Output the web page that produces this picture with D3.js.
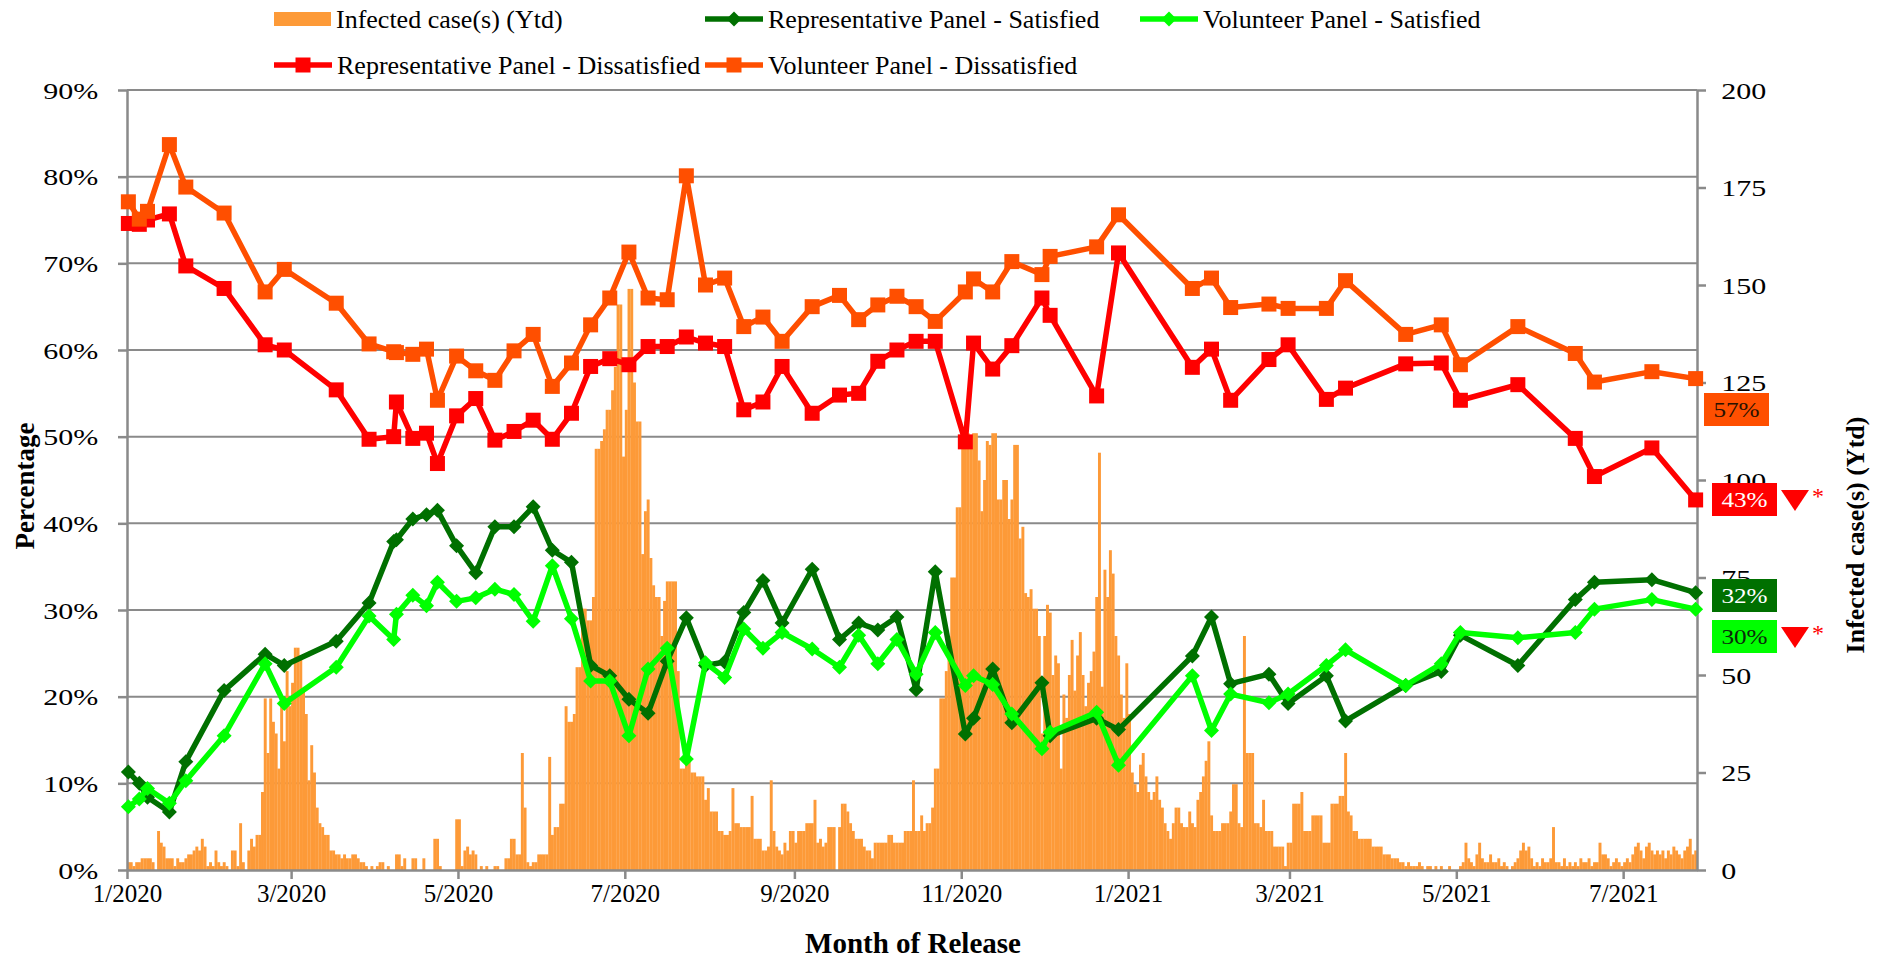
<!DOCTYPE html>
<html lang="en">
<head>
<meta charset="UTF-8">
<title>Satisfaction and infected cases</title>
<script src="https://d3js.org/d3.v7.min.js"></script>
<style>
  body { margin: 0; background: #fff; }
  svg { display: block; font-family: "Liberation Serif", "Times New Roman", serif; }
  .axis path, .axis line { stroke: #8a8a8a; stroke-width: 2.5; }
  .grid line { stroke: #8a8a8a; stroke-width: 2; }
</style>
</head>
<body>
<script>
// survey release dates (shared by the four panel series)
const surveyDates = [
  "2020-01-01","2020-01-05","2020-01-08","2020-01-16","2020-01-22","2020-02-05","2020-02-20","2020-02-27",
  "2020-03-17","2020-03-29","2020-04-07","2020-04-08","2020-04-14","2020-04-19","2020-04-23","2020-04-30",
  "2020-05-07","2020-05-14","2020-05-21","2020-05-28","2020-06-04","2020-06-11","2020-06-18","2020-06-25",
  "2020-07-02","2020-07-09","2020-07-16","2020-07-23","2020-07-30","2020-08-06","2020-08-13","2020-08-20",
  "2020-08-27","2020-09-07","2020-09-17","2020-09-24","2020-10-01","2020-10-08","2020-10-15","2020-10-22",
  "2020-11-02","2020-11-05","2020-11-12","2020-11-19","2020-11-30","2020-12-03","2020-12-20","2020-12-28",
  "2021-01-24","2021-01-31","2021-02-07","2021-02-21","2021-02-28","2021-03-14","2021-03-21","2021-04-12",
  "2021-04-25","2021-05-02","2021-05-23","2021-06-13","2021-06-20","2021-07-11","2021-07-27"
];

// percentages
const repSatisfied = [
  11.3,10.0,8.4,6.7,12.5,20.7,24.9,23.6,26.4,30.8,37.9,38.1,40.5,41.0,41.5,37.4,
  34.3,39.6,39.6,41.9,36.9,35.5,23.6,22.4,19.7,18.1,24.1,29.1,23.6,24.0,29.7,33.4,
  28.5,34.7,26.6,28.5,27.7,29.2,20.8,34.4,15.7,17.5,23.2,17.0,21.6,15.5,17.5,16.2,
  24.7,29.2,21.5,22.6,19.2,22.4,17.2,21.3,22.9,27.1,23.6,31.2,33.2,33.5,32.0
];
const volSatisfied = [
  7.3,8.2,9.4,7.7,10.3,15.5,23.8,19.2,23.4,29.3,26.6,29.5,31.7,30.5,33.2,31.0,
  31.4,32.4,31.8,28.7,35.1,29.0,21.8,21.8,15.5,23.2,25.6,12.8,23.9,22.2,27.8,25.6,
  27.4,25.5,23.4,27.1,23.8,26.6,22.6,27.4,21.3,22.4,21.4,18.0,14.0,15.9,18.2,12.1,
  22.4,16.1,20.3,19.3,20.3,23.6,25.4,21.3,23.8,27.4,26.8,27.4,30.1,31.2,30.1
];
const repDissatisfied = [
  74.6,74.5,75.0,75.7,69.7,67.1,60.6,60.0,55.4,49.7,50.0,54.0,49.8,50.4,46.9,52.4,
  54.4,49.6,50.6,51.9,49.7,52.7,58.1,59.0,58.3,60.4,60.4,61.5,60.8,60.4,53.1,54.0,
  58.1,52.7,54.8,55.0,58.7,60.0,61.0,61.0,49.4,60.8,57.8,60.5,66.0,64.0,54.7,71.2,
  58.0,60.1,54.2,58.9,60.6,54.3,55.6,58.4,58.5,54.2,56.0,49.8,45.4,48.7,42.7
];
const volDissatisfied = [
  77.1,75.1,76.0,83.7,78.8,75.8,66.7,69.3,65.4,60.7,59.8,59.7,59.5,60.1,54.2,59.3,
  57.6,56.5,59.9,61.8,55.8,58.5,62.9,66.0,71.3,66.0,65.8,80.1,67.5,68.3,62.7,63.8,
  61.0,65.0,66.3,63.5,65.2,66.2,65.0,63.3,66.7,68.2,66.7,70.2,68.7,70.8,71.9,75.6,
  67.1,68.3,64.9,65.3,64.8,64.8,68.0,61.8,62.9,58.3,62.7,59.6,56.3,57.5,56.7
];

// daily infected cases, one value per day from casesStart
const casesStart = "2020-01-01";
const dailyCases = [
  2,2,1,2,2,3,3,3,3,2, 0,10,7,6,3,3,3,1,3,2, 2,3,4,4,5,6,5,8,6,1, 2,1,5,2,1,2,1,0,5,5,
  1,12,2,0,5,8,6,9,9,20, 44,30,44,38,35,26,43,33,51,42, 48,57,57,55,46,40,23,32,25,16,
  12,11,9,9,5,5,4,4,3,4, 3,3,4,4,3,2,2,1,0,1, 0,1,2,2,0,1,0,0,4,4, 1,3,0,0,3,3,0,0,3,0,
  0,0,8,8,1,0,0,0,0,0, 13,13,1,5,6,4,5,4,0,1, 0,1,0,0,1,1,0,0,3,3, 8,8,4,4,30,16,2,1,2,2,
  4,4,4,4,29,9,11,11,17,17, 42,38,38,40,52,52,67,67,64,64, 70,108,108,110,113,118,118,123,129,145,
  145,106,118,149,149,125,115,115,81,92, 95,80,73,70,70,60,69,74,74,74, 74,51,26,26,30,28,25,25,24,24,
  24,18,21,15,15,15,10,10,9,9, 10,21,12,12,11,11,11,11,19,8, 8,8,5,5,6,23,10,6,5,4,
  7,5,10,10,7,10,10,10,12,12, 12,18,7,8,6,7,11,11,11,0, 11,17,17,15,12,10,8,8,8,6,
  5,5,3,7,7,7,7,7,9,9, 7,7,7,7,10,10,10,23,10,10, 14,10,12,12,16,26,26,44,44,51,
  60,75,75,93,93,108,115,112,108,112, 112,105,92,100,110,109,112,112,95,95, 100,100,90,95,109,109,85,88,71,70,
  72,67,67,60,35,60,68,66,50,55, 53,26,45,39,50,59,46,55,61,50, 42,48,51,56,70,107,47,77,70,82,
  76,60,55,45,39,53,40,25,22,20, 27,30,24,20,18,20,24,18,16,12, 10,8,12,16,16,12,11,11,15,12,
  11,18,20,24,28,33,14,10,10,10, 12,12,12,15,22,22,12,11,60,30, 30,30,12,12,11,18,10,10,10,6,
  6,6,6,1,7,7,17,17,17,20, 10,10,10,14,14,14,14,7,7,7, 17,17,17,19,19,30,15,14,10,10,
  8,8,8,8,8,6,6,6,6,4, 4,4,3,3,3,2,2,1,2,1, 1,1,2,1,0,1,1,0,1,0, 1,0,0,1,0,0,0,1,2,7,
  3,2,1,4,7,3,2,2,4,2, 2,3,1,2,1,0,1,2,3,5, 7,5,6,3,1,2,1,3,2,2, 3,11,2,2,1,3,1,2,1,2,
  1,3,2,2,3,1,2,2,7,4, 4,3,1,2,3,2,1,2,3,2, 4,6,7,5,3,6,7,5,4,5, 4,5,3,5,4,6,5,4,3,5,
  6,8,4,5
];

// axis ticks
const monthTicks = ["2020-01-01","2020-03-01","2020-05-01","2020-07-01","2020-09-01","2020-11-01",
                    "2021-01-01","2021-03-01","2021-05-01","2021-07-01"];
const pctTicks = [0,0.1,0.2,0.3,0.4,0.5,0.6,0.7,0.8,0.9];
const caseTicks = [0,25,50,75,100,125,150,175,200];

// latest-value call-outs
const endLabels = ["57%","43%","32%","30%"];

const W = 1879, H = 958;
const plot = { left: 127, right: 1697, top: 90, bottom: 870 };
const parse = d3.timeParse("%Y-%m-%d");

const x = d3.scaleTime()
  .domain([parse("2020-01-01"), parse("2021-07-28")])
  .range([plot.left, plot.right]);
const yL = d3.scaleLinear().domain([0, 0.9]).range([plot.bottom, plot.top]);
const yR = d3.scaleLinear().domain([0, 200]).range([plot.bottom, plot.top]);

const svg = d3.select("body").append("svg")
  .attr("width", W)
  .attr("height", H);

// horizontal gridlines
svg.append("g").attr("class", "grid")
  .selectAll("line")
  .data(pctTicks.slice(1))
  .join("line")
  .attr("x1", plot.left).attr("x2", plot.right)
  .attr("y1", d => yL(d)).attr("y2", d => yL(d));

// daily infected bars
const start = parse(casesStart);
svg.append("g")
  .selectAll("rect")
  .data(dailyCases)
  .join("rect")
  .attr("x", (d, i) => x(d3.timeDay.offset(start, i)))
  .attr("width", (d, i) => x(d3.timeDay.offset(start, i + 1)) - x(d3.timeDay.offset(start, i)) + 0.2)
  .attr("y", d => yR(d))
  .attr("height", d => yR(0) - yR(d))
  .attr("fill", "#fd9a38");

// axes
const xAxis = svg.append("g").attr("class", "axis")
  .attr("transform", `translate(0,${plot.bottom})`)
  .call(d3.axisBottom(x)
    .tickValues(monthTicks.map(parse))
    .tickFormat(d3.timeFormat("%-m/%Y"))
    .tickSizeInner(9).tickSizeOuter(0).tickPadding(5));
xAxis.selectAll("text").attr("font-size", 25).attr("fill", "#000")
  .attr("font-family", "Liberation Serif");

const leftAxis = svg.append("g").attr("class", "axis")
  .attr("transform", `translate(${plot.left},0)`)
  .call(d3.axisLeft(yL).tickValues(pctTicks).tickFormat(d3.format(".0%"))
    .tickSizeInner(9).tickSizeOuter(0));
leftAxis.selectAll("text")
  .attr("font-size", 24).attr("fill", "#000").attr("font-family", "Liberation Serif")
  .attr("x", -23).attr("dy", "0.34em")
  .attr("transform", "scale(1.25,1)");

const rightAxis = svg.append("g").attr("class", "axis")
  .attr("transform", `translate(${plot.right},0)`)
  .call(d3.axisRight(yR).tickValues(caseTicks).tickSizeInner(9).tickSizeOuter(0));
rightAxis.selectAll("text")
  .attr("font-size", 24).attr("fill", "#000").attr("font-family", "Liberation Serif")
  .attr("x", 19.5).attr("dy", "0.34em")
  .attr("transform", "scale(1.25,1)");

// panel series
const series = [
  { name: "Representative Panel - Satisfied", values: repSatisfied, color: "#007000", marker: "diamond" },
  { name: "Volunteer Panel - Satisfied", values: volSatisfied, color: "#00ff00", marker: "diamond" },
  { name: "Representative Panel - Dissatisfied", values: repDissatisfied, color: "#ff0000", marker: "square" },
  { name: "Volunteer Panel - Dissatisfied", values: volDissatisfied, color: "#ff4f00", marker: "square" }
];

const midDay = d => d3.timeHour.offset(parse(d), 12);
const line = d3.line()
  .x(d => x(midDay(d.date)))
  .y(d => yL(d.v / 100));

const diamond = r => `M0,${-r}L${r},0L0,${r}L${-r},0Z`;
const square = r => `M${-r},${-r}H${r}V${r}H${-r}Z`;
const markerPath = m => m === "diamond" ? diamond(7.5) : square(7.5);

series.forEach(s => {
  const pts = surveyDates.map((date, i) => ({ date, v: s.values[i] }));
  const g = svg.append("g");
  g.append("path")
    .datum(pts)
    .attr("d", line)
    .attr("fill", "none")
    .attr("stroke", s.color)
    .attr("stroke-width", 5.5)
    .attr("stroke-linejoin", "round");
  g.selectAll("path.mk")
    .data(pts)
    .join("path")
    .attr("class", "mk")
    .attr("transform", d => `translate(${x(midDay(d.date))},${yL(d.v / 100)})`)
    .attr("d", markerPath(s.marker))
    .attr("fill", s.color);
});

// legend
const legend = svg.append("g").attr("font-size", 26).attr("fill", "#000");
legend.append("rect")
  .attr("x", 274).attr("y", 12).attr("width", 57).attr("height", 14)
  .attr("fill", "#fd9a38");
legend.append("text").attr("x", 336).attr("y", 28).text("Infected case(s) (Ytd)");

const legendPos = [
  { s: series[0], x: 705, y: 19 },
  { s: series[1], x: 1140, y: 19 },
  { s: series[2], x: 274, y: 65 },
  { s: series[3], x: 705, y: 65 }
];
legendPos.forEach(p => {
  legend.append("line")
    .attr("x1", p.x).attr("x2", p.x + 58)
    .attr("y1", p.y).attr("y2", p.y)
    .attr("stroke", p.s.color).attr("stroke-width", 5.5);
  legend.append("path")
    .attr("transform", `translate(${p.x + 29},${p.y})`)
    .attr("d", markerPath(p.s.marker))
    .attr("fill", p.s.color);
  legend.append("text")
    .attr("x", p.x + 63).attr("y", p.y + 9)
    .text(p.s.name);
});

// axis titles
svg.append("text")
  .attr("transform", "translate(34,486) rotate(-90)")
  .attr("text-anchor", "middle")
  .attr("font-size", 27).attr("font-weight", "bold")
  .text("Percentage");

svg.append("text")
  .attr("transform", "translate(1864,535) rotate(-90)")
  .attr("text-anchor", "middle")
  .attr("font-size", 26).attr("font-weight", "bold")
  .text("Infected case(s) (Ytd)");

svg.append("text")
  .attr("x", 913).attr("y", 953)
  .attr("text-anchor", "middle")
  .attr("font-size", 29).attr("font-weight", "bold")
  .text("Month of Release");

// latest value call-outs with significance markers
const callouts = [
  { label: endLabels[0], x: 1704, y: 393, fill: "#ff4f00", text: "#2a1200" },
  { label: endLabels[1], x: 1712, y: 483, fill: "#ff0000", text: "#ffffff", flag: true },
  { label: endLabels[2], x: 1712, y: 579, fill: "#007000", text: "#ffffff" },
  { label: endLabels[3], x: 1712, y: 620, fill: "#00ff00", text: "#0a2a0a", flag: true }
];
callouts.forEach(c => {
  svg.append("rect")
    .attr("x", c.x).attr("y", c.y).attr("width", 65).attr("height", 33)
    .attr("fill", c.fill);
  svg.append("text")
    .attr("transform", `translate(${c.x + 32.5},${c.y + 24}) scale(1.2,1)`)
    .attr("text-anchor", "middle")
    .attr("font-size", 21).attr("fill", c.text)
    .text(c.label);
  if (c.flag) {
    const tx = c.x + 83, ty = c.y + 7;
    svg.append("path")
      .attr("d", `M${tx - 14},${ty}L${tx + 14},${ty}L${tx},${ty + 21}Z`)
      .attr("fill", "#ff0000");
    svg.append("text")
      .attr("x", tx + 17).attr("y", ty + 14)
      .attr("font-size", 24).attr("fill", "#ff0000")
      .text("*");
  }
});
</script>
</body>
</html>
